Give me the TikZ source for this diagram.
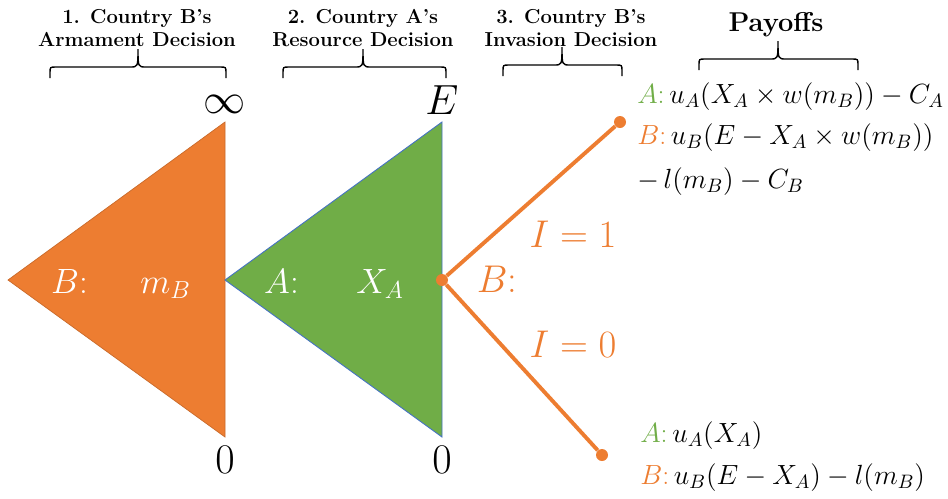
\documentclass[tikz,border=0pt]{standalone}
\usepackage{fix-cm}
\usepackage{tikz}
\usetikzlibrary{positioning}
\usepackage{xcolor}
\definecolor{pptorange}{HTML}{ED7D31}
\definecolor{pptgreen}{HTML}{70AD47}
\definecolor{pptblue}{HTML}{4472C4}

\begin{document}
\begin{tikzpicture}[
        x=0.02cm, y=-0.02cm,
        head/.style={align=center, font=\fontsize{11.5}{13.5}\selectfont\bfseries, inner sep=0pt},
        bound/.style={font=\fontsize{24}{28}\selectfont, inner sep=0pt},
        trilabel/.style={font=\fontsize{20}{24}\selectfont, text=white, inner sep=0pt, anchor=base},
        choice/.style={font=\fontsize{22}{26}\selectfont, text=pptorange, inner sep=0pt, anchor=base},
        payoff/.style={font=\fontsize{15.8}{19}\selectfont, inner sep=0pt, anchor=base west},
        curly/.style={draw=black, line width=0.8pt},
        dot/.style={circle, fill=pptorange, inner sep=0pt, minimum size=0.24cm},
        branch/.style={draw=pptorange, line width=2.2pt},
    ]
        \useasboundingbox (0,0) rectangle (948,498);

        % Decision headers
        \node[head] (armhead) at (137,28) {1. Country B's\\Armament Decision};
        \node[head] (reshead) at (363,28) {2. Country A's\\Resource Decision};
        \node[head] (invhead) at (571,28) {3. Country B's\\Invasion Decision};
        \node[head, font=\fontsize{15.5}{18}\selectfont\bfseries] (payhead) at (776,25) {Payoffs};

        % Braces under the headers
        \foreach \l/\r/\t/\y in {50/226/138/78, 283/446/363/78, 503/622/562/76, 699/858/778/70}
            \draw[curly] (\l,\y) -- (\l,\y-5) .. controls (\l,\y-11) .. (\l+6,\y-11)
                -- (\t-8,\y-11) .. controls (\t,\y-11) .. (\t,\y-29)
                .. controls (\t,\y-11) .. (\t+8,\y-11)
                -- (\r-6,\y-11) .. controls (\r,\y-11) .. (\r,\y-5) -- (\r,\y);

        % Triangles for the continuous choices
        \coordinate (armtip) at (8,280);
        \coordinate (armtop) at (225,122);
        \coordinate (armbot) at (225,437);
        \coordinate (restip) at (225,280);
        \coordinate (restop) at (442,122);
        \coordinate (resbot) at (442,437);
        \fill[pptorange, draw=pptorange!85!black, line width=0.4pt] (armtip) -- (armtop) -- (armbot) -- cycle;
        \fill[pptgreen, draw=pptblue, line width=0.5pt] (restip) -- (restop) -- (resbot) -- cycle;

        \node[trilabel] (armlabel) at (121,293) {$B$:\hspace{1.05cm}$m_B$};
        \node[trilabel] (reslabel) at (334,293) {$A$:\hspace{1.15cm}$X_A$};

        % Bounds
        \node[bound] (infty) at (225,104) {$\infty$};
        \node[bound] (endow) at (442,100) {$E$};
        \node[bound] (armzero) at (225,460) {$0$};
        \node[bound] (reszero) at (442,460) {$0$};

        % Invasion decision
        \node[dot] (root) at (442,280) {};
        \node[dot] (invade) at (620,122) {};
        \node[dot] (stay) at (602,455) {};
        \draw[branch] (root) -- (invade);
        \draw[branch] (root) -- (stay);

        \node[choice] (chooser) at (497,292) {$B$:};
        \node[choice] (ione) at (573,247) {$I=1$};
        \node[choice] (izero) at (573,357) {$I=0$};

        % Payoffs
        \node[payoff] (payAone) at (637,103) {\textcolor{pptgreen}{$A$:}$\,u_A\bigl(X_A\times w(m_B)\bigr)-C_A$};
        \node[payoff] (payBone) at (637,144) {\textcolor{pptorange}{$B$:}$\,u_B\bigl(E-X_A\times w(m_B)\bigr)$};
        \node[payoff] (payBonecont) at (637,188) {$-\,l(m_B)-C_B$};
        \node[payoff] (payAzero) at (640,442) {\textcolor{pptgreen}{$A$:}$\,u_A(X_A)$};
        \node[payoff] (payBzero) at (640,484) {\textcolor{pptorange}{$B$:}$\,u_B(E-X_A)-l(m_B)$};
    \end{tikzpicture}
\end{document}
